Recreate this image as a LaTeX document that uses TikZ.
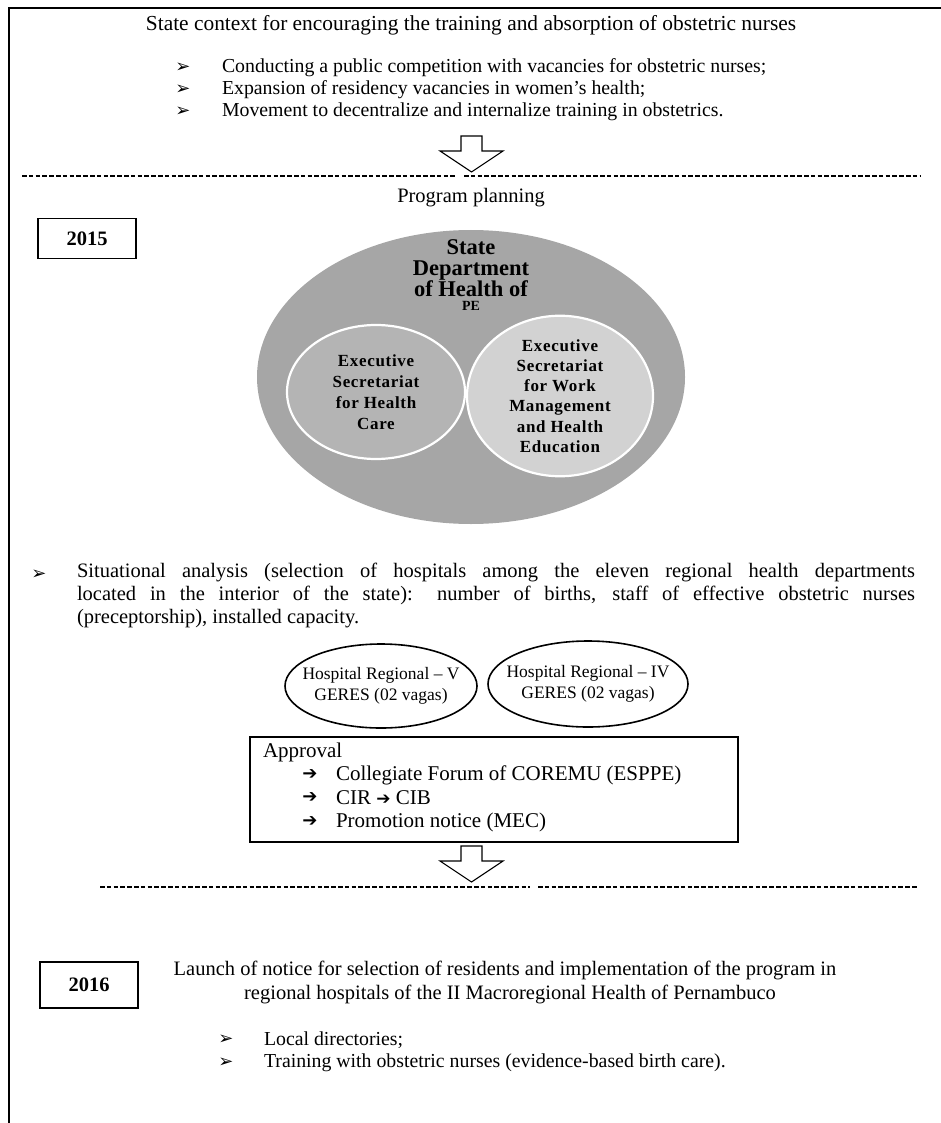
\documentclass[tikz,border=0pt]{standalone}
\usepackage{fontspec}
\setmainfont{Liberation Serif}
\newfontfamily\symfont{DejaVu Sans}
\newfontfamily\wideserif[LetterSpace=4]{Liberation Serif}
\usetikzlibrary{shapes.geometric}
\definecolor{deptgray}{HTML}{A6A6A6}
\definecolor{leftgray}{HTML}{B4B4B4}
\definecolor{rightgray}{HTML}{D2D2D2}
\begin{document}
\begin{tikzpicture}[x=1pt,y=-1pt,
  every node/.style={inner sep=0pt,outer sep=0pt},
  txt/.style={font=\fontsize{19.8}{23}\selectfont,anchor=west},
  atxt/.style={font=\fontsize{21}{23}\selectfont,anchor=west},
  ctxt/.style={font=\fontsize{20.5}{23}\selectfont,anchor=center},
  bul/.style={font=\symfont\bfseries\fontsize{18}{18}\selectfont,anchor=center},
  arr/.style={font=\symfont\bfseries\fontsize{18}{18}\selectfont,anchor=center},
  yearbox/.style={draw,line width=1.4pt,minimum width=98pt,minimum height=40pt,font=\bfseries\fontsize{20.5}{24}\selectfont},
  hollowarrow/.style={draw,line width=1.1pt,fill=white,line join=miter},
  sep/.style={line width=2pt,dash pattern=on 4.6pt off 2.2pt},
  frame/.style={line width=2.6pt},
  hospell/.style={draw,ellipse,line width=1.6pt},
  hosptxt/.style={font=\fontsize{17.5}{21}\selectfont,align=center},
  inner/.style={draw=white,line width=2.2pt,ellipse,font=\wideserif\bfseries\fontsize{17}{21}\selectfont,align=center}
]
\useasboundingbox (0,0) rectangle (941,1123);
% frame
\draw[frame] (9,1123) -- (9,8) -- (941,8);

% state context
\node[ctxt,font=\fontsize{21.4}{24}\selectfont] (title) at (471,25) {State context for encouraging the training and absorption of obstetric nurses};
\node[bul] (b1) at (183,68) {➢};
\node[txt] (t1) at (222,68) {Conducting a public competition with vacancies for obstetric nurses;};
\node[bul] (b2) at (183,90) {➢};
\node[txt] (t2) at (222,90) {Expansion of residency vacancies in women’s health;};
\node[bul] (b3) at (183,112) {➢};
\node[txt] (t3) at (222,112) {Movement to decentralize and internalize training in obstetrics.};

% arrow 1
\draw[hollowarrow] (461,136) -- (482,136) -- (482,151) -- (503,151) -- (471.5,172) -- (440,151) -- (461,151) -- cycle;
% separator 1
\coordinate (s1a) at (22,176); \coordinate (s1b) at (455,176);
\coordinate (s1c) at (464,176); \coordinate (s1d) at (920,176);
\draw[sep] (s1a) -- (s1b);
\draw[sep] (s1c) -- (s1d);

\node[ctxt] (plan) at (471,198) {Program planning};
\node[yearbox] (y2015) at (87,238.5) {2015};

% ellipses
\node[ellipse,fill=deptgray,minimum width=428pt,minimum height=294pt] (dept) at (471,377) {};
\node[font=\bfseries\fontsize{22.5}{21}\selectfont,align=center] (depttxt) at (471,268) {State\\Department\\of Health of};
\node[font=\bfseries\fontsize{14}{14}\selectfont] (pe) at (471,306) {PE};
\node[inner,fill=leftgray,minimum width=178pt,minimum height=134pt] (esh) at (376,392) {Executive\\Secretariat\\for Health\\Care};
\node[inner,fill=rightgray,minimum width=186pt,minimum height=150pt,font=\wideserif\bfseries\fontsize{17}{20.3}\selectfont] (esw) at (560,396) {Executive\\Secretariat\\for Work\\Management\\and Health\\Education};

% situational analysis
\node[bul] (b4) at (39,575) {➢};
\node[anchor=north west,text width=838pt,align=justify,font=\fontsize{20.5}{23}\selectfont] (sit) at (77,563) {Situational analysis (selection of hospitals among the eleven regional health departments\linebreak located in the interior of the state): number of births, staff of effective obstetric nurses\linebreak (preceptorship), installed capacity.};

% hospitals
\node[hospell,minimum width=192pt,minimum height=84pt] (h5) at (381,686) {};
\node[hosptxt] (h5t) at (h5.center) {Hospital Regional – V\\GERES (02 vagas)};
\node[hospell,minimum width=200pt,minimum height=86pt] (h4) at (588,684) {};
\node[hosptxt] (h4t) at (h4.center) {Hospital Regional – IV\\GERES (02 vagas)};

% approval
\node[draw,line width=1.3pt,minimum width=488pt,minimum height=105pt] (appr) at (494,789.5) {};
\node[atxt] (aptxt) at (263,752) {Approval};
\node[arr] (a1) at (310,775) {➔};
\node[atxt] (at1) at (336,775) {Collegiate Forum of COREMU (ESPPE)};
\node[arr] (a2) at (310,798) {➔};
\node[atxt] (at2) at (336,798) {CIR {\symfont\bfseries\fontsize{17}{17}\selectfont ➔} CIB};
\node[arr] (a3) at (310,822) {➔};
\node[atxt] (at3) at (336,822) {Promotion notice (MEC)};

% arrow 2
\draw[hollowarrow] (461,846) -- (482,846) -- (482,861) -- (503,861) -- (471.5,882) -- (440,861) -- (461,861) -- cycle;
\coordinate (s2a) at (100,887); \coordinate (s2b) at (530,887);
\coordinate (s2c) at (538,887); \coordinate (s2d) at (918,887);
\draw[sep] (s2a) -- (s2b);
\draw[sep] (s2c) -- (s2d);

% 2016
\node[yearbox,minimum height=46pt] (y2016) at (89,985) {2016};
\node[ctxt] (l1) at (505,970) {Launch of notice for selection of residents and implementation of the program in};
\node[ctxt] (l2) at (510,994) {regional hospitals of the II Macroregional Health of Pernambuco};
\node[bul] (b5) at (226,1040) {➢};
\node[txt] (t5) at (264,1040) {Local directories;};
\node[bul] (b6) at (226,1063) {➢};
\node[txt] (t6) at (264,1063) {Training with obstetric nurses (evidence-based birth care).};
\end{tikzpicture}
\end{document}
